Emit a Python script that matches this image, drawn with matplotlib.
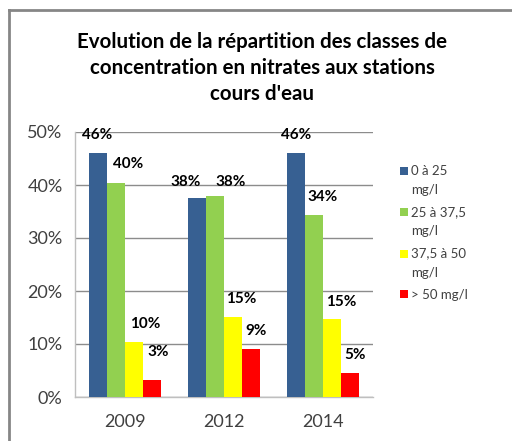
import numpy as np
import matplotlib
matplotlib.use("Agg")
import matplotlib.pyplot as plt
from matplotlib.lines import Line2D
from matplotlib.patches import Rectangle
from matplotlib.legend_handler import HandlerPatch
from matplotlib.ticker import PercentFormatter

# data
years = ["2009", "2012", "2014"]
classes = ["0 à 25\nmg/l", "25 à 37,5\nmg/l", "37,5 à 50\nmg/l", "> 50 mg/l"]
cls_0_25 = [46.0, 37.5, 46.1]
cls_25_37 = [40.3, 38.0, 34.4]
cls_37_50 = [10.4, 15.1, 14.7]
cls_50 = [3.2, 9.0, 4.6]
value_labels = [
    ["46%", "38%", "46%"],
    ["40%", "38%", "34%"],
    ["10%", "15%", "15%"],
    ["3%", "9%", "5%"],
]

series = [cls_0_25, cls_25_37, cls_37_50, cls_50]
colors = ["#376092", "#92d050", "#ffff00", "#ff0000"]

# label nudges (pixels) from each bar top, as placed in the original
label_nudge = [
    [(0, 18), (-11, 16), (0, 18)],
    [(12, 19), (16, 14), (8, 18)],
    [(12, 18), (8, 18), (9, 17)],
    [(6, 28), (5, 18), (5, 18)],
]

plt.rcParams['font.family'] = ['Lato', 'DejaVu Sans']

fig = plt.figure(figsize=(5.12, 4.41), dpi=100)
ax = fig.add_axes([75 / 512, 1 - 397 / 441, 298 / 512, 265 / 441])

x = np.arange(len(years))
w = 0.182
bars = []
for i, (vals, col) in enumerate(zip(series, colors)):
    pos = x + (i - 1.5) * w
    b = ax.bar(pos, vals, width=w, color=col, label=classes[i], zorder=3)
    bars.append(b)
    for j, rect in enumerate(b):
        dx, dy = label_nudge[i][j]
        ax.annotate(value_labels[i][j],
                    (rect.get_x() + rect.get_width() / 2, rect.get_height()),
                    xytext=(dx, dy), textcoords="offset pixels",
                    ha="center", va="center", fontsize=11,
                    fontweight="bold", color="black", zorder=4)

ax.set_xlim(-0.5, 2.5)
ax.set_ylim(0, 50)
ax.set_yticks(np.arange(0, 51, 10))
ax.yaxis.set_major_formatter(PercentFormatter(decimals=0))
ax.set_xticks(x)
ax.set_xticklabels(years)
ax.tick_params(axis="both", length=0, labelsize=13, colors="#404040")
ax.tick_params(axis="x", pad=12)
ax.tick_params(axis="y", pad=9)
ax.grid(axis="y", color="#8c8c8c", linewidth=1, zorder=0)
ax.set_axisbelow(True)
for s in ["top", "right"]:
    ax.spines[s].set_visible(False)
for s in ["left", "bottom"]:
    ax.spines[s].set_color("#bfbfbf")
    ax.spines[s].set_linewidth(1)


# Excel puts the legend key next to the first line of a wrapped label
def top_square(legend, orig_handle, xdescent, ydescent, width, height, fontsize):
    side = 0.6 * fontsize
    return Rectangle((-xdescent, -ydescent + height / 2 + 0.45 * fontsize),
                     side, side)


def mid_square(legend, orig_handle, xdescent, ydescent, width, height, fontsize):
    side = 0.6 * fontsize
    return Rectangle((-xdescent, -ydescent + (height - side) / 2), side, side)


handles = [b[0] for b in bars]
hmap = {}
for h, lab in zip(handles, classes):
    hmap[h] = HandlerPatch(patch_func=top_square if "\n" in lab else mid_square)

leg = fig.legend(handles=handles, labels=classes,
                 loc="upper left", bbox_to_anchor=(393 / 512, 1 - 158 / 441),
                 frameon=False, fontsize=9.5, handlelength=0.6,
                 handletextpad=0.3, labelspacing=0.75, borderpad=0,
                 handler_map=hmap)
for t in leg.get_texts():
    t.set_color("#404040")
    t.set_linespacing(1.75)

fig.text(262 / 512, 1 - 68 / 441,
         "Evolution de la répartition des classes de\n"
         "concentration en nitrates aux stations\ncours d'eau",
         ha="center", va="center", fontsize=14.8, fontweight="bold",
         linespacing=1.36)

# chart area border (left and top edges visible in the crop)
fig.add_artist(Line2D([9 / 512, 9 / 512], [0, 1 - 10 / 441],
                      color="#868686", linewidth=2))
fig.add_artist(Line2D([9 / 512, 1], [1 - 10 / 441, 1 - 10 / 441],
                      color="#868686", linewidth=2))

fig.savefig("out.png", dpi=100)
